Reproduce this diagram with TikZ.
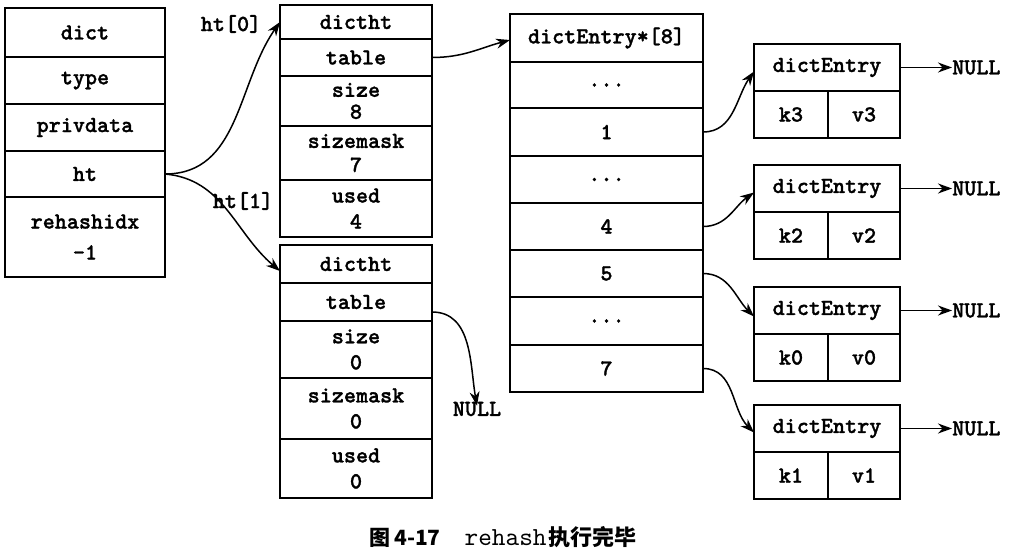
\documentclass[tikz,border=0pt]{standalone}
\usepackage{fontspec}
\newfontfamily\cjkfont{Noto Sans CJK SC}
\newfontfamily\codefont[FakeBold=1.2]{lmmonolt10-bold.otf}
\newfontfamily\capcode{lmmono10-regular.otf}
\usetikzlibrary{arrows.meta}
\begin{document}
\begin{tikzpicture}[x=1pt,y=-1pt,
  cell/.style={draw, line width=1.8pt, rectangle, inner sep=0pt, outer sep=0pt,
    anchor=north west, align=center,
    font=\codefont\fontsize{23}{26}\selectfont},
  lbl/.style={inner sep=0pt, font=\codefont\fontsize{23}{24}\selectfont},
  link/.style={line width=1.5pt, -{Stealth[length=14pt,width=10pt]}}
]
\useasboundingbox (0,0) rectangle (1014,552);
\fill[white] (0,0) rectangle (1014,552);

% dict
\node[cell, minimum width=160pt, minimum height=49pt] (dict) at (5,8) {dict};
\node[cell, minimum width=160pt, minimum height=47pt] (type) at (5,57) {type};
\node[cell, minimum width=160pt, minimum height=47pt] (priv) at (5,104) {privdata};
\node[cell, minimum width=160pt, minimum height=46pt] (ht) at (5,151) {ht};
\node[cell, minimum width=160pt, minimum height=80pt, font=\codefont\fontsize{23}{31}\selectfont] (rid) at (5,197) {rehashidx\\-1};

% dictht 0
\node[cell, minimum width=152pt, minimum height=34pt] (h0) at (280,5) {dictht};
\node[cell, minimum width=152pt, minimum height=37pt] (t0) at (280,39) {table};
\node[cell, minimum width=152pt, minimum height=50pt, font=\codefont\fontsize{23}{22}\selectfont] (s0) at (280,76) {size\\8};
\node[cell, minimum width=152pt, minimum height=54pt, font=\codefont\fontsize{23}{24}\selectfont] (m0) at (280,126) {sizemask\\7};
\node[cell, minimum width=152pt, minimum height=57pt] (u0) at (280,180) {used\\4};

% dictht 1
\node[cell, minimum width=152pt, minimum height=38pt] (h1) at (280,245) {dictht};
\node[cell, minimum width=152pt, minimum height=38pt] (t1) at (280,283) {table};
\node[cell, minimum width=152pt, minimum height=57pt] (s1) at (280,321) {size\\0};
\node[cell, minimum width=152pt, minimum height=61pt] (m1) at (280,378) {sizemask\\0};
\node[cell, minimum width=152pt, minimum height=59pt] (u1) at (280,439) {used\\0};

% dictEntry*[8]
\node[cell, minimum width=193pt, minimum height=48pt] (ah) at (510,14) {dictEntry*[8]};
\node[cell, minimum width=193pt, minimum height=46pt] (a0) at (510,62) {...};
\node[cell, minimum width=193pt, minimum height=48pt] (a1) at (510,108) {1};
\node[cell, minimum width=193pt, minimum height=47pt] (a2) at (510,156) {...};
\node[cell, minimum width=193pt, minimum height=47pt] (a4) at (510,203) {4};
\node[cell, minimum width=193pt, minimum height=47pt] (a5) at (510,250) {5};
\node[cell, minimum width=193pt, minimum height=48pt] (a6) at (510,297) {...};
\node[cell, minimum width=193pt, minimum height=47pt] (a7) at (510,345) {7};

% dictEntry boxes
\foreach \n/\y/\k in {1/44/3, 2/165/2, 3/287/0, 4/405/1}{
  \node[cell, minimum width=146pt, minimum height=47pt] (e\n h) at (754,\y) {dictEntry};
  \node[cell, minimum width=74pt, minimum height=47pt] (e\n k) at (754,\y+47) {k\k};
  \node[cell, minimum width=72pt, minimum height=47pt] (e\n v) at (828,\y+47) {v\k};
  \node[lbl, anchor=west] (n\n) at (952,\y+23.5) {NULL};
  \draw[link] (e\n h.east) -- (n\n.west);
}

% labels
\node[lbl] (l0) at (231,24) {ht[0]};
\node[lbl] (l1) at (243,201) {ht[1]};
\node[lbl] (nb) at (477,409) {NULL};

% connectors
\draw[link] (ht.east) to[out=0,in=235] (h0.west);
\draw[link] (ht.east) to[out=-5,in=140] ([yshift=-7pt]h1.west);
\draw[link] (t0.east) to[out=0,in=195] ([yshift=-2pt]ah.west);
\draw[link] ([yshift=-10pt]t1.east) to[out=0,in=100] ([yshift=-4pt]nb.north);
\draw[link] (a1.east) to[out=0,in=235] ([yshift=-4pt]e1h.west);
\draw[link] (a4.east) to[out=0,in=215] ([yshift=-4pt]e2h.west);
\draw[link] (a5.east) to[out=0,in=135] ([yshift=-6pt]e3h.west);
\draw[link] (a7.east) to[out=0,in=135] ([yshift=-4pt]e4h.west);

% caption
\node[inner sep=0pt] (cap) at (503,537) {{\cjkfont\bfseries\fontsize{21}{24}\selectfont 图\,4-17}\hspace{24pt}{\capcode\fontsize{26}{24}\selectfont rehash}\,{\cjkfont\bfseries\fontsize{22}{24}\selectfont 执行完毕}};
\end{tikzpicture}
\end{document}
